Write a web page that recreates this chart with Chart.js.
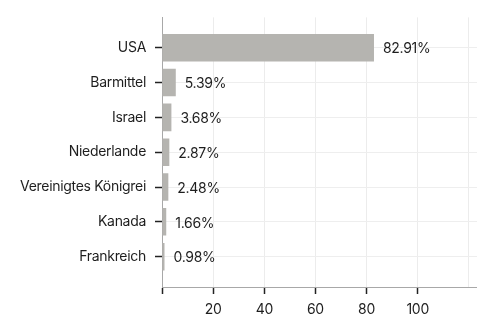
<!DOCTYPE html>
<html>
<head>
<meta charset="utf-8">
<script src="https://cdn.jsdelivr.net/npm/chart.js@4"></script>
<style>
  html, body { margin: 0; padding: 0; background: #fff; }
  #wrap { width: 477px; height: 316px; }
</style>
</head>
<body>
<div id="wrap"><canvas id="chart"></canvas></div>
<script>
const countries = [
  "USA",
  "Barmittel",
  "Israel",
  "Niederlande",
  "Vereinigtes Königrei",
  "Kanada",
  "Frankreich",
];
const shares = [82.91, 5.39, 3.68, 2.87, 2.48, 1.66, 0.98];
const shareLabels = ["82.91%", "5.39%", "3.68%", "2.87%", "2.48%", "1.66%", "0.98%"];
const xTicks = [0, 20, 40, 60, 80, 100, 120];
const xTickLabels = ["", "20", "40", "60", "80", "100", ""];

const fontFamily = "Inter, Roboto, sans-serif";
const fontSize = 14;

// tighter letter spacing for every text drawn on the canvas
const tightText = {
  id: "tightText",
  beforeInit(chart) {
    chart.ctx.letterSpacing = "-0.3px";
  },
  beforeDraw(chart) {
    chart.ctx.letterSpacing = "-0.3px";
  },
};

// value labels next to each bar
const barLabels = {
  id: "barLabels",
  afterDatasetsDraw(chart) {
    const ctx = chart.ctx;
    const meta = chart.getDatasetMeta(0);
    ctx.save();
    ctx.font = fontSize + "px " + fontFamily;
    ctx.fillStyle = "#1e1e1e";
    ctx.textAlign = "left";
    ctx.textBaseline = "middle";
    meta.data.forEach((bar, i) => {
      ctx.fillText(shareLabels[i], bar.x + 9, bar.y + 1.5);
    });
    ctx.restore();
  },
};

new Chart(document.getElementById("chart"), {
  type: "bar",
  data: {
    labels: countries,
    datasets: [
      {
        data: shares,
        backgroundColor: "#b5b4b0",
        borderWidth: 0,
        barPercentage: 0.79,
        categoryPercentage: 1,
      },
    ],
  },
  options: {
    indexAxis: "y",
    responsive: true,
    maintainAspectRatio: false,
    animation: false,
    layout: { padding: { top: 14, right: 0, left: 0, bottom: 0 } },
    plugins: {
      legend: { display: false },
      tooltip: { enabled: false },
    },
    scales: {
      x: {
        min: 0,
        max: 123.2,
        afterBuildTicks: (scale) => {
          scale.ticks = xTicks.map((v) => ({ value: v }));
        },
        afterFit: (scale) => {
          scale.height = 29;
        },
        border: { color: "#a8a8a8", width: 1 },
        grid: {
          color: "#ececec",
          lineWidth: 1,
          tickLength: 7,
          tickWidth: 1.5,
          tickColor: (c) => (c.tick && c.tick.value < 120 ? "#222" : "rgba(0,0,0,0)"),
        },
        ticks: {
          autoSkip: false,
          maxRotation: 0,
          padding: 7,
          color: "#1e1e1e",
          font: { family: fontFamily, size: fontSize },
          callback: (v, i) => xTickLabels[i],
        },
      },
      y: {
        offset: true,
        afterBuildTicks: (scale) => {
          // extra room above the first and below the last category
          scale._startValue = -0.87;
          scale._valueRange = countries.length + 0.74;
        },
        afterFit: (scale) => {
          scale.width = 162;
        },
        border: { color: "#a8a8a8", width: 1 },
        grid: {
          offset: false,
          color: "#eeeeee",
          lineWidth: 1,
          tickLength: 7,
          tickWidth: 1.5,
          tickColor: "#222",
        },
        ticks: {
          autoSkip: false,
          padding: 9,
          color: "#1e1e1e",
          font: { family: fontFamily, size: fontSize },
        },
      },
    },
  },
  plugins: [tightText, barLabels],
});
</script>
</body>
</html>
